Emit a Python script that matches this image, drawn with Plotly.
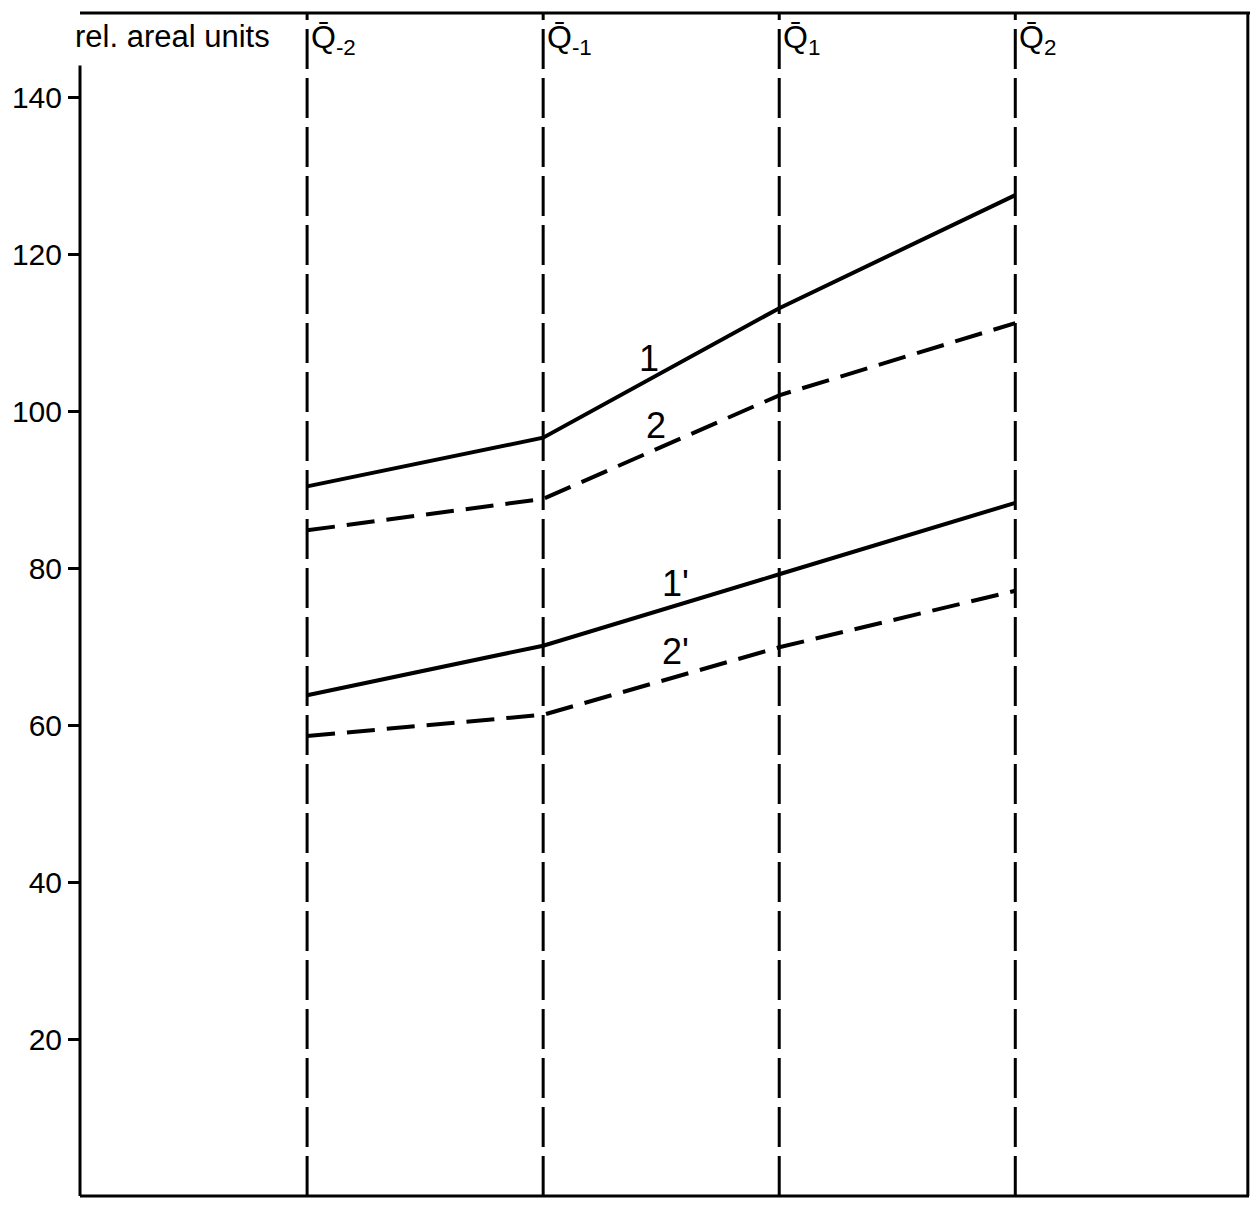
import plotly.graph_objects as go

categories = ["Q̄<sub>-2</sub>", "Q̄<sub>-1</sub>", "Q̄<sub>1</sub>", "Q̄<sub>2</sub>"]
series_1 = [90.4, 96.6, 113.1, 127.5]
series_2 = [84.8, 88.8, 102.0, 111.2]
series_1p = [63.8, 70.1, 79.2, 88.3]
series_2p = [58.6, 61.3, 69.9, 77.1]
y_ticks = [20, 40, 60, 80, 100, 120, 140]
y_title = "rel. areal units"

FONT = "Liberation Sans"
xs = list(range(len(categories)))

fig = go.Figure()
styles = [
    (series_1, "solid"),
    (series_2, "28px,12px"),
    (series_1p, "solid"),
    (series_2p, "28px,12px"),
]
for vals, dash in styles:
    fig.add_trace(go.Scatter(x=xs, y=vals, mode="lines",
                             line=dict(color="black", width=4, dash=dash),
                             showlegend=False, hoverinfo="skip"))

# vertical dashed lines at categories
for i in xs:
    fig.add_shape(type="line", xref="x", yref="paper", x0=i, x1=i, y0=0, y1=1,
                  line=dict(color="black", width=3, dash="40px,9px"), layer="below")

# frame
fig.add_shape(type="line", xref="paper", yref="paper", x0=0, x1=1.01, y0=1, y1=1,
              line=dict(color="black", width=3))
fig.add_shape(type="line", xref="paper", yref="paper", x0=0.999, x1=0.999, y0=0, y1=1,
              line=dict(color="black", width=3))
fig.add_shape(type="line", xref="paper", yref="paper", x0=0, x1=1, y0=0, y1=0,
              line=dict(color="black", width=3))
fig.add_shape(type="line", xref="paper", yref="y", x0=0, x1=0, y0=0, y1=144,
              line=dict(color="black", width=3))

# category labels
for i, c in enumerate(categories):
    fig.add_annotation(x=i, y=1, xref="x", yref="paper", text=c, showarrow=False,
                       xanchor="left", yanchor="top", xshift=2, yshift=-4,
                       font=dict(family=FONT, size=32, color="black"))

fig.add_annotation(x=0, y=1, xref="paper", yref="paper", text=y_title, showarrow=False,
                   xanchor="center", yanchor="top", xshift=92, yshift=-4,
                   font=dict(family=FONT, size=31, color="black"))

# series labels
for txt, xv, yv in [("1", 1.45, 106.7), ("2", 1.48, 98.2), ("1'", 1.56, 78.0), ("2'", 1.56, 69.3)]:
    fig.add_annotation(x=xv, y=yv, text=txt, showarrow=False,
                       font=dict(family=FONT, size=36, color="black"))

fig.update_layout(
    width=1242, height=1192,
    margin=dict(l=72, r=1, t=5, b=4),
    plot_bgcolor="white", paper_bgcolor="white",
    xaxis=dict(range=[-0.962, 3.99], showgrid=False, zeroline=False, showline=False,
               showticklabels=False, ticks=""),
    yaxis=dict(range=[0, 150.7], tickvals=y_ticks, showgrid=False, zeroline=False,
               showline=False, ticks="outside", ticklen=11, tickwidth=3, tickcolor="black",
               tickfont=dict(family=FONT, size=30, color="black")),
)

fig.write_html("out.html")
